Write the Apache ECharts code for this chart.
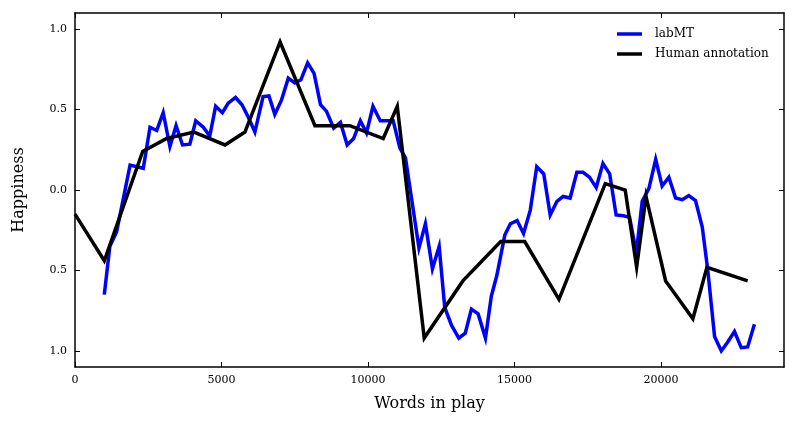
<!DOCTYPE html>
<html>
<head>
<meta charset="utf-8">
<script src="https://cdn.jsdelivr.net/npm/echarts@6/dist/echarts.min.js"></script>
<style>html,body{margin:0;padding:0;background:#fff}#c{width:797px;height:426px}</style>
</head>
<body>
<div id="c"></div>
<script>
var labmtX = [1000,1190,1420,1880,2330,2560,2790,3010,3240,3450,3670,3920,4120,4380,4600,4800,5030,5230,5480,5700,5920,6140,6420,6620,6820,7050,7280,7500,7710,7940,8160,8380,8580,8830,9060,9290,9510,9740,9950,10170,10420,10860,11090,11280,11740,11960,12200,12430,12620,12850,13100,13320,13530,13760,14010,14210,14400,14670,14860,15090,15310,15540,15760,16000,16220,16450,16660,16900,17130,17340,17560,17790,18020,18250,18470,18720,18930,19160,19360,19590,19820,20040,20270,20500,20730,20950,21180,21410,21600,21830,22060,22280,22510,22740,22960,23190];
var labmtY = [-0.65,-0.35,-0.26,0.155,0.135,0.39,0.37,0.48,0.27,0.40,0.28,0.285,0.43,0.39,0.335,0.52,0.48,0.54,0.575,0.53,0.45,0.36,0.58,0.585,0.47,0.56,0.695,0.665,0.685,0.79,0.725,0.53,0.49,0.385,0.42,0.28,0.32,0.43,0.355,0.52,0.43,0.43,0.26,0.20,-0.36,-0.21,-0.49,-0.35,-0.73,-0.84,-0.92,-0.89,-0.74,-0.77,-0.92,-0.66,-0.53,-0.28,-0.21,-0.19,-0.27,-0.125,0.145,0.10,-0.155,-0.07,-0.04,-0.05,0.11,0.11,0.08,0.015,0.165,0.10,-0.155,-0.16,-0.17,-0.39,-0.07,0.01,0.19,0.025,0.08,-0.05,-0.06,-0.035,-0.065,-0.23,-0.5,-0.91,-1.0,-0.945,-0.88,-0.98,-0.975,-0.835];
var humanX = [0,1000,2310,3130,4060,5120,5800,7000,8190,9380,10520,11000,11920,13240,14530,15350,16520,18100,18780,19170,19490,20160,21090,21570,22960];
var humanY = [-0.15,-0.44,0.24,0.32,0.36,0.28,0.36,0.92,0.40,0.40,0.32,0.52,-0.92,-0.565,-0.32,-0.32,-0.68,0.04,0.0,-0.48,-0.04,-0.565,-0.80,-0.48,-0.565];
var xTicks = [0,5000,10000,15000,20000];
var yTicks = [-1,-0.5,0,0.5,1];
var seriesNames = ['labMT','Human annotation'];
var xTitle = 'Words in play';
var yTitle = 'Happiness';

function zip(a,b){return a.map(function(v,i){return [v,b[i]];});}
var FONT = 'DejaVu Serif';
var chart = echarts.init(document.getElementById('c'), null, {renderer:'canvas'});
var axLine = {show:true, onZero:false, lineStyle:{color:'#000', width:1.5}};
var tick = function(vals){return {show:true, inside:true, length:5, lineStyle:{color:'#000', width:1}, customValues: vals};};
chart.setOption({
  animation:false,
  backgroundColor:'#fff',
  grid:{left:75, right:13, top:13, bottom:59, containLabel:false},
  legend:{
    orient:'vertical', left:612, top:23, icon:'rect', itemWidth:25, itemHeight:3.5, itemGap:8,
    textStyle:{fontFamily:FONT, fontSize:12, color:'#000', padding:[0,0,0,8]},
    data:seriesNames
  },
  xAxis:[
    {type:'value', min:0, max:24200, position:'bottom',
     name:xTitle, nameLocation:'middle', nameGap:29,
     nameTextStyle:{fontFamily:FONT, fontSize:16, color:'#000'},
     axisLine:axLine, axisTick:tick(xTicks), splitLine:{show:false},
     axisLabel:{customValues:xTicks, margin:8, fontFamily:FONT, fontSize:11, color:'#000',
       formatter:function(v){return String(v);}}},
    {type:'value', min:0, max:24200, position:'top',
     axisLine:axLine, axisTick:tick(xTicks), splitLine:{show:false}, axisLabel:{show:false}}
  ],
  yAxis:[
    {type:'value', min:-1.1, max:1.1, position:'left',
     name:yTitle, nameLocation:'middle', nameGap:48, nameRotate:90,
     nameTextStyle:{fontFamily:FONT, fontSize:16, color:'#000'},
     axisLine:axLine, axisTick:tick(yTicks), splitLine:{show:false},
     axisLabel:{customValues:yTicks, margin:8, fontFamily:FONT, fontSize:11, color:'#000',
       formatter:function(v){return Math.abs(v).toFixed(1);}}},
    {type:'value', min:-1.1, max:1.1, position:'right',
     axisLine:axLine, axisTick:tick(yTicks), splitLine:{show:false}, axisLabel:{show:false}}
  ],
  series:[
    {name:seriesNames[0], type:'line', data:zip(labmtX,labmtY), symbol:'none', showSymbol:false,
     lineStyle:{color:'#0000ff', width:3.5, join:'miter'}, itemStyle:{color:'#0000ff'}, z:2},
    {name:seriesNames[1], type:'line', data:zip(humanX,humanY), symbol:'none', showSymbol:false,
     lineStyle:{color:'#000000', width:3.5, join:'miter'}, itemStyle:{color:'#000000'}, z:3}
  ]
});
</script>
</body>
</html>
